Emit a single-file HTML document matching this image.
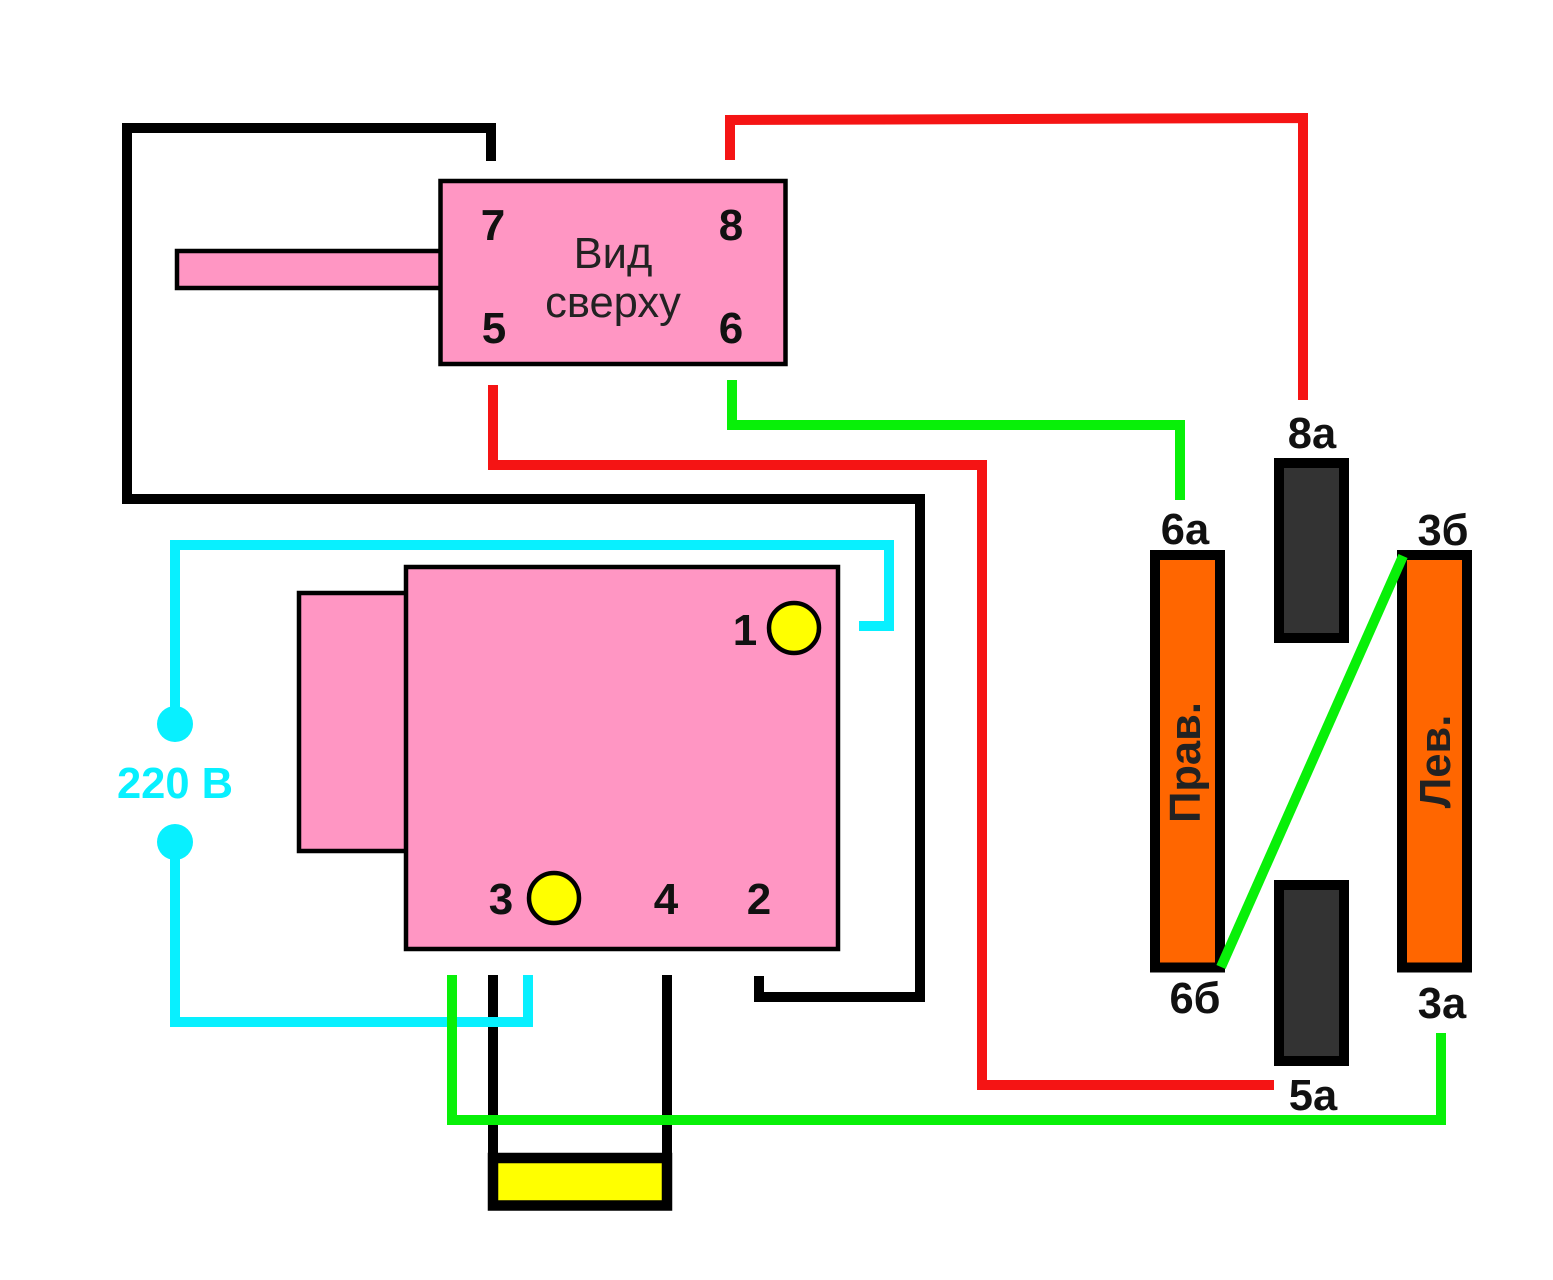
<!DOCTYPE html>
<html><head><meta charset="utf-8"><style>html,body{margin:0;padding:0;background:#fff}svg{display:block}text{font-family:"Liberation Sans",sans-serif}</style></head><body>
<svg width="1553" height="1280" viewBox="0 0 1553 1280" xmlns="http://www.w3.org/2000/svg">
<rect width="1553" height="1280" fill="#fff"/>
<g fill="none" stroke-width="10">
<path d="M491 161V128H127V499H920V997H759V976" stroke="#000"/>
<path d="M493 975V1160M667 975V1160" stroke="#000"/>
<path d="M730 160V120L1303 118V400" stroke="#f51414"/>
<path d="M493 385V465H982V1085H1274" stroke="#f51414"/>
<path d="M732 380V425H1180V500" stroke="#08f008"/>
<path d="M175 720V545H889V626H859" stroke="#08f0ff"/>
<path d="M175 845V1022H528V975" stroke="#08f0ff"/>
</g>
<rect x="177" y="251" width="266" height="37" fill="#ff96c3" stroke="#000" stroke-width="4.5"/>
<rect x="440.5" y="181" width="345" height="183" fill="#ff96c3" stroke="#000" stroke-width="4.5"/>
<rect x="299" y="593" width="110" height="258" fill="#ff96c3" stroke="#000" stroke-width="4.5"/>
<rect x="406" y="567" width="432" height="382" fill="#ff96c3" stroke="#000" stroke-width="4.5"/>
<circle cx="794" cy="628" r="25" fill="#ffff00" stroke="#000" stroke-width="4.5"/>
<circle cx="554" cy="898" r="25" fill="#ffff00" stroke="#000" stroke-width="4.5"/>
<circle cx="175" cy="724" r="18" fill="#08f0ff"/>
<circle cx="175" cy="842" r="18" fill="#08f0ff"/>
<rect x="493" y="1158" width="174" height="47.5" fill="#ffff00" stroke="#000" stroke-width="10.5"/>
<rect x="1155" y="555" width="65" height="412.5" fill="#ff6600" stroke="#000" stroke-width="10"/>
<rect x="1402" y="555" width="65" height="412.5" fill="#ff6600" stroke="#000" stroke-width="10"/>
<rect x="1279" y="463" width="65" height="175" fill="#333" stroke="#000" stroke-width="10"/>
<rect x="1279" y="885" width="65" height="176" fill="#333" stroke="#000" stroke-width="10"/>
<path d="M1221 967L1403 556" stroke="#08f008" stroke-width="10" fill="none"/>
<path d="M452 975V1120H1441V1033" fill="none" stroke="#08f008" stroke-width="10"/>
<g font-size="44" font-weight="700" fill="#111" text-anchor="middle">
<text x="493" y="240">7</text><text x="731" y="240">8</text><text x="494" y="343">5</text><text x="731" y="343">6</text>
<text x="745" y="645">1</text><text x="501" y="914">3</text><text x="666" y="914">4</text><text x="759" y="914">2</text>
</g>
<g font-size="43.5" fill="#222" text-anchor="middle"><text x="613" y="268">Вид</text><text x="613" y="317">сверху</text></g>
<g font-size="43.5" font-weight="700" fill="#111" text-anchor="middle">
<text x="1312" y="448">8а</text><text x="1185" y="544">6а</text><text x="1443" y="545">3б</text><text x="1195" y="1013">6б</text><text x="1442" y="1018">3а</text><text x="1313" y="1110">5а</text>
</g>
<text x="175" y="798" font-size="43.5" font-weight="700" fill="#08f0ff" text-anchor="middle">220 В</text>
<text transform="translate(1200 762.5) rotate(-90)" font-size="43.5" font-weight="700" fill="#222" text-anchor="middle">Прав.</text>
<text transform="translate(1450 761.5) rotate(-90)" font-size="43.5" font-weight="700" fill="#222" text-anchor="middle">Лев.</text>
</svg>
</body></html>
